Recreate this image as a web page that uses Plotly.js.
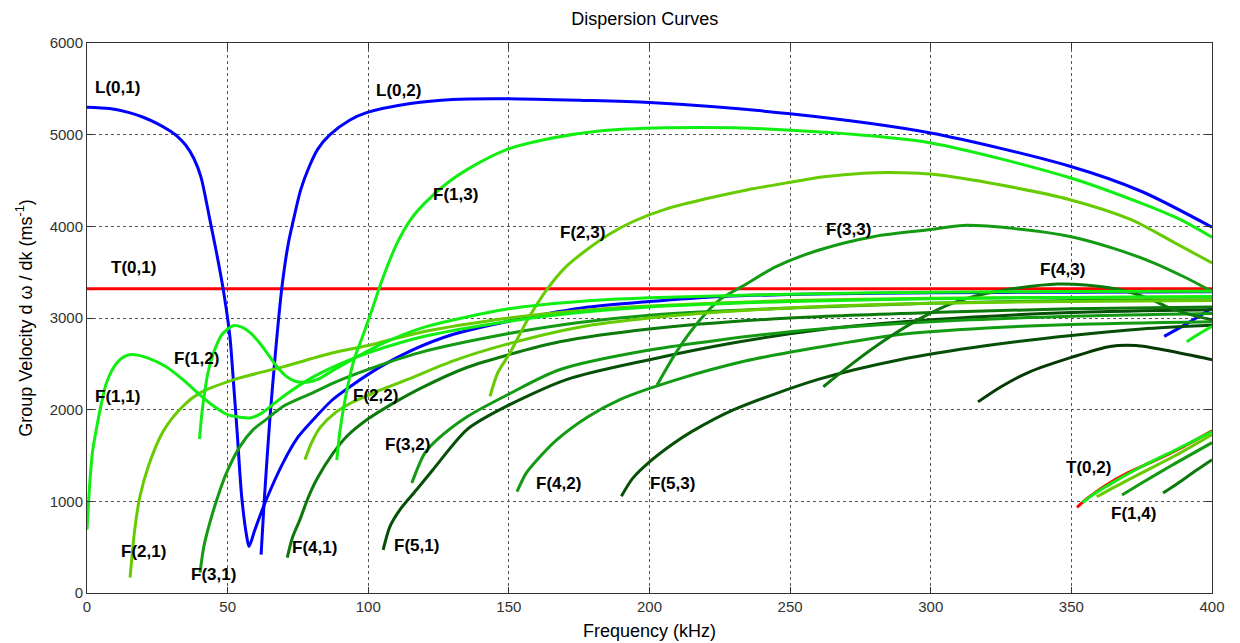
<!DOCTYPE html>
<html>
<head>
<meta charset="utf-8">
<script src="https://cdn.plot.ly/plotly-3.0.1.min.js"></script>
<style>html,body{margin:0;padding:0;background:#fff;}#chart{width:1240px;height:643px;}</style>
</head>
<body>
<div id="chart"></div>
<script>
// ---- data (frequency kHz, group velocity m/s) ----
const T01_f = [0, 50, 100, 150, 200, 250, 300, 350, 400];
const T01_v = [3320, 3320, 3320, 3320, 3320, 3320, 3320, 3320, 3320];

const L01_f = [0, 8, 15, 20, 25, 29, 32, 35, 38, 40.5, 43.7, 46, 48.4, 50.8, 52, 53.4, 55, 56.8, 57.6, 59.7, 63.3, 69.7, 75, 80.4, 87, 93.5, 105, 116, 130, 149, 176, 200, 226, 260, 300, 350, 400];
const L01_v = [5300, 5285, 5240, 5190, 5120, 5050, 4985, 4890, 4740, 4540, 4070, 3720, 3320, 2800, 2330, 1750, 1050, 615, 508, 690, 985, 1420, 1700, 1890, 2100, 2250, 2480, 2655, 2820, 2960, 3110, 3180, 3235, 3262, 3275, 3282, 3286];

const L02_f = [61.9, 63, 65, 67, 69.2, 71.5, 73.4, 76, 79, 82, 86.4, 93.5, 99.4, 115, 130, 149, 175, 200, 250, 300, 349.5, 375, 400];
const L02_v = [418, 1000, 1890, 2620, 3310, 3800, 4070, 4400, 4650, 4840, 5000, 5160, 5240, 5340, 5385, 5392, 5375, 5350, 5228, 5018, 4655, 4380, 3990];

const L03_f = [383, 390, 396, 400];
const L03_v = [2800, 2920, 3030, 3110];

const F11_f = [0, 1, 2, 3.5, 5, 7, 10.6, 14, 17, 22, 28, 34, 40, 45, 50, 55, 58, 62, 70, 80, 90, 101, 120, 149, 175, 200, 250, 300, 350, 400];
const F11_v = [690, 1200, 1550, 1815, 2050, 2300, 2510, 2590, 2600, 2560, 2470, 2330, 2165, 2040, 1945, 1915, 1910, 1960, 2150, 2350, 2500, 2630, 2800, 2960, 3060, 3120, 3180, 3210, 3225, 3235];

const F12_f = [40, 41, 43, 45, 48, 52, 55, 58, 61, 64, 67.5, 71, 74, 78, 82, 87, 95, 105, 120, 150, 175, 200, 250, 300, 350, 400];
const F12_v = [1680, 2000, 2400, 2620, 2820, 2915, 2900, 2840, 2740, 2620, 2470, 2360, 2310, 2300, 2330, 2420, 2560, 2720, 2900, 3100, 3180, 3220, 3260, 3280, 3290, 3292];

const F13_f = [88.8, 90, 92, 95, 98, 101, 105, 110, 115, 120, 128, 138, 149, 165, 182, 206, 230, 260.6, 300, 349.5, 375, 389, 400];
const F13_v = [1450, 1780, 2150, 2550, 2800, 3060, 3420, 3800, 4070, 4250, 4470, 4670, 4835, 4960, 5040, 5075, 5075, 5030, 4910, 4530, 4250, 4070, 3880];

const F14_f = [391, 395, 400];
const F14_v = [2740, 2820, 2910];

const F21_f = [15.3, 16, 17, 18.8, 22, 27, 34, 40, 52, 70, 87.5, 100, 118, 150, 175, 200, 250, 300, 350, 400];
const F21_v = [167, 400, 700, 1050, 1400, 1760, 2035, 2180, 2325, 2470, 2620, 2700, 2840, 3000, 3080, 3130, 3190, 3215, 3225, 3230];

const F22_f = [77.5, 80, 83, 88, 94, 104, 114, 130, 150, 175, 200, 250, 300, 350, 400];
const F22_v = [1455, 1650, 1810, 1960, 2075, 2210, 2330, 2530, 2720, 2900, 3000, 3110, 3160, 3180, 3190];

const F23_f = [143.3, 146, 150.4, 157, 163.5, 170, 177.7, 186, 194, 206, 220, 235, 250, 262, 276, 290, 300, 325, 349.5, 371, 385, 400];
const F23_v = [2145, 2400, 2620, 3000, 3310, 3550, 3745, 3920, 4050, 4190, 4300, 4400, 4480, 4540, 4580, 4585, 4570, 4450, 4290, 4075, 3850, 3600];

const F31_f = [40.2, 41.5, 43.7, 46.5, 49.6, 54.4, 59, 64, 69.7, 80, 87.5, 100, 118, 150, 175, 200, 250, 300, 350, 400];
const F31_v = [222, 500, 770, 1050, 1310, 1600, 1780, 1900, 2035, 2180, 2290, 2440, 2620, 2830, 2950, 3030, 3110, 3160, 3190, 3200];

const F32_f = [115.5, 120, 124.4, 135, 150, 168, 200, 250, 300, 350, 400];
const F32_v = [1200, 1520, 1670, 1920, 2170, 2435, 2650, 2850, 2960, 3020, 3050];

const F33_f = [202.7, 210, 218, 225, 233, 245, 260.6, 280, 300, 311.5, 330, 349.5, 365, 379, 390, 400];
const F33_v = [2270, 2650, 2980, 3200, 3345, 3560, 3745, 3890, 3965, 4010, 3975, 3890, 3760, 3605, 3450, 3290];

const F41_f = [71.2, 73, 75.7, 78.5, 81.7, 87.5, 92.4, 100, 110, 118.4, 135, 150, 168, 200, 250, 300, 350, 400];
const F41_v = [385, 600, 800, 1030, 1240, 1525, 1710, 1900, 2090, 2230, 2460, 2600, 2740, 2880, 3000, 3060, 3100, 3120];

const F42_f = [152.9, 156, 160, 167, 178, 189.5, 210, 234, 260, 289, 320, 350, 400];
const F42_v = [1105, 1300, 1450, 1670, 1920, 2110, 2330, 2530, 2680, 2820, 2890, 2930, 2960];

const F43_f = [261.8, 272, 284, 296, 308, 320, 331.7, 345, 355, 367, 377, 385, 392, 400];
const F43_v = [2250, 2500, 2765, 2990, 3165, 3270, 3330, 3370, 3360, 3310, 3220, 3110, 3040, 2980];

const F51_f = [105.3, 107.7, 111.3, 117, 123, 135, 146.8, 170.7, 200, 230, 260, 300, 350, 400];
const F51_v = [470, 725, 910, 1120, 1345, 1780, 2000, 2330, 2545, 2730, 2870, 2980, 3060, 3090];

const F53_f = [190, 194, 200, 208, 215, 230, 260, 289, 320, 350, 375, 400];
const F53_v = [1055, 1250, 1430, 1620, 1760, 2000, 2330, 2545, 2700, 2810, 2880, 2920];

const F6_f = [316.8, 325, 335, 350, 363.7, 373, 385, 400];
const F6_v = [2085, 2250, 2410, 2570, 2690, 2700, 2640, 2545];

const T02_f = [352, 356, 362, 370, 380, 390, 400];
const T02_v = [935, 1040, 1170, 1310, 1450, 1600, 1770];

const H1_f = [354, 358, 365, 375, 387, 400];
const H1_v = [985, 1080, 1210, 1380, 1560, 1760];
const H2_f = [359, 365, 375, 387, 400];
const H2_v = [1050, 1150, 1310, 1500, 1730];
const H3_f = [368, 375, 385, 400];
const H3_v = [1070, 1200, 1380, 1640];
const H4_f = [382.6, 388, 394, 400];
const H4_v = [1090, 1200, 1330, 1455];

// label text and positions (data coords)
const labelText = ['L(0,1)', 'L(0,2)', 'T(0,1)', 'F(1,3)', 'F(2,3)', 'F(3,3)', 'F(4,3)', 'F(1,2)', 'F(1,1)', 'F(2,2)', 'F(3,2)', 'F(2,1)', 'F(3,1)', 'F(4,1)', 'F(5,1)', 'F(4,2)', 'F(5,3)', 'T(0,2)', 'F(1,4)'];
const labelF = [11, 110.6, 16.7, 131, 176, 270.6, 347, 39, 11, 102.4, 114, 20, 44.8, 81, 117, 167.8, 208, 356, 372];
const labelV = [5510, 5480, 3550, 4345, 3930, 3970, 3525, 2555, 2140, 2150, 1620, 450, 200, 495, 515, 1200, 1195, 1365, 865];

// ---- styles ----
const RED = '#ff0000', BLUE = '#0000ff';
const G1 = '#11ee11', G2 = '#66cc00', G3 = '#139a13', G4 = '#0b7a0b', G5 = '#064f06', G6 = '#053a05';
const FONT = 'Liberation Sans, Arial, Helvetica, sans-serif';

const series = [
  [T01_f, T01_v, RED],
  [L01_f, L01_v, BLUE],
  [L02_f, L02_v, BLUE],
  [L03_f, L03_v, BLUE],
  [F41_f, F41_v, G4],
  [F51_f, F51_v, G5],
  [F32_f, F32_v, G3],
  [F42_f, F42_v, G3],
  [F53_f, F53_v, G5],
  [F6_f, F6_v, G6],
  [F43_f, F43_v, G4],
  [F33_f, F33_v, G3],
  [F31_f, F31_v, G3],
  [F22_f, F22_v, G2],
  [F21_f, F21_v, G2],
  [F23_f, F23_v, G2],
  [F11_f, F11_v, G1],
  [F12_f, F12_v, G1],
  [F13_f, F13_v, G1],
  [F14_f, F14_v, G1],
  [T02_f, T02_v, RED],
  [H1_f, H1_v, G1],
  [H2_f, H2_v, G2],
  [H3_f, H3_v, G3],
  [H4_f, H4_v, G4]
];

const traces = series.map(s => ({
  x: s[0], y: s[1], type: 'scatter', mode: 'lines',
  line: {color: s[2], width: 3, shape: 'spline', smoothing: 0.8},
  hoverinfo: 'skip', showlegend: false
}));

const annotations = labelText.map((t, i) => ({
  x: labelF[i], y: labelV[i], xref: 'x', yref: 'y', text: '<b>' + t + '</b>',
  showarrow: false, font: {family: FONT, size: 17, color: '#000'}
}));

const axisCommon = {
  showline: true, mirror: 'ticks', linecolor: '#333', linewidth: 1,
  ticks: 'inside', ticklen: 6, tickcolor: '#333',
  showgrid: true, gridcolor: '#555', griddash: 'dot', gridwidth: 1,
  zeroline: false,
  tickfont: {family: FONT, size: 15, color: '#333'}
};

const layout = {
  width: 1240, height: 643,
  margin: {l: 87, r: 28, t: 43, b: 50},
  paper_bgcolor: '#fff', plot_bgcolor: '#fff',
  title: {text: 'Dispersion Curves', x: 0.52, xanchor: 'center', y: 0.98, yanchor: 'top',
          font: {family: FONT, size: 18, color: '#000'}},
  xaxis: Object.assign({}, axisCommon, {
    range: [0, 400], tickvals: [0, 50, 100, 150, 200, 250, 300, 350, 400],
    title: {text: 'Frequency (kHz)', standoff: 10, font: {family: FONT, size: 18, color: '#000'}}
  }),
  yaxis: Object.assign({}, axisCommon, {
    range: [0, 6000], tickvals: [0, 1000, 2000, 3000, 4000, 5000, 6000],
    title: {text: 'Group Velocity d \u03c9 / dk (ms<sup>-1</sup>)', standoff: 12, font: {family: FONT, size: 18, color: '#000'}}
  }),
  annotations: annotations
};

Plotly.newPlot('chart', traces, layout, {staticPlot: true, displayModeBar: false});
</script>
</body>
</html>
